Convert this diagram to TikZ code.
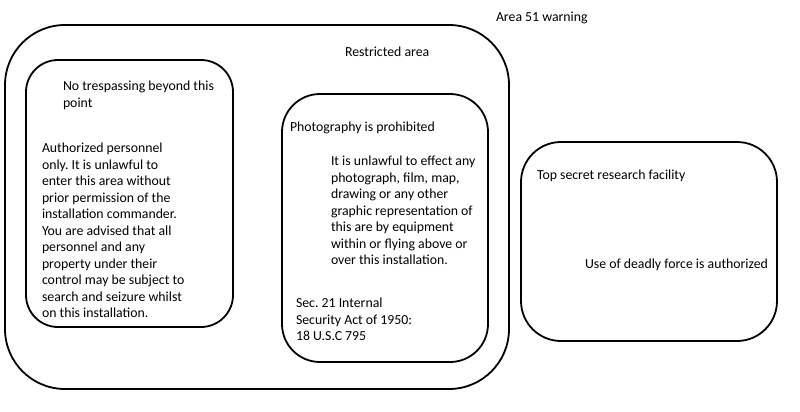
\documentclass[tikz,border=0pt]{standalone}
\usepackage{fontspec}
\setmainfont{Carlito}
\frenchspacing
\begin{document}
\begin{tikzpicture}[x=1pt,y=-1pt,
  box/.style={draw, line width=1.8pt, outer sep=0pt, inner sep=0pt, anchor=north west},
  txt/.style={inner sep=0pt, outer sep=0pt, anchor=north west, align=left,
    font=\fontsize{13.8}{16.5}\selectfont}]
\useasboundingbox[fill=white] (0,0) rectangle (800,412);
% boxes
\node[box, rounded corners=60pt, minimum width=504pt, minimum height=364pt] (outer) at (5,25) {};
\node[box, rounded corners=32pt, minimum width=207pt, minimum height=267pt] (noentry) at (26,60) {};
\node[box, rounded corners=38pt, minimum width=206pt, minimum height=268pt] (photo) at (282,94) {};
\node[box, rounded corners=40pt, minimum width=256pt, minimum height=199pt] (secret) at (521,142) {};
% texts
\node[txt] (t51) at (496,12) {Area 51 warning};
\node[txt] (trestr) at (345,47) {Restricted area};
\node[txt] (tnotres) at (63,81) {No trespassing beyond this\\point};
\node[txt] (tauth) at (42,143) {Authorized personnel\\only. It is unlawful to\\enter this area without\\prior permission of the\\installation commander.\\You are advised that all\\personnel and any\\property under their\\control may be subject to\\search and seizure whilst\\on this installation.};
\node[txt] (tphoto) at (290,122) {Photography is prohibited};
\node[txt] (tunlaw) at (331,156) {It is unlawful to effect any\\photograph, film, map,\\drawing or any other\\graphic representation of\\this are by equipment\\within or flying above or\\over this installation.};
\node[txt] (tsec) at (296,298) {Sec. 21 Internal\\Security Act of 1950:\\18 U.S.C 795};
\node[txt] (ttop) at (537,170) {Top secret research facility};
\node[txt] (tuse) at (585,259) {Use of deadly force is authorized};
\end{tikzpicture}
\end{document}
